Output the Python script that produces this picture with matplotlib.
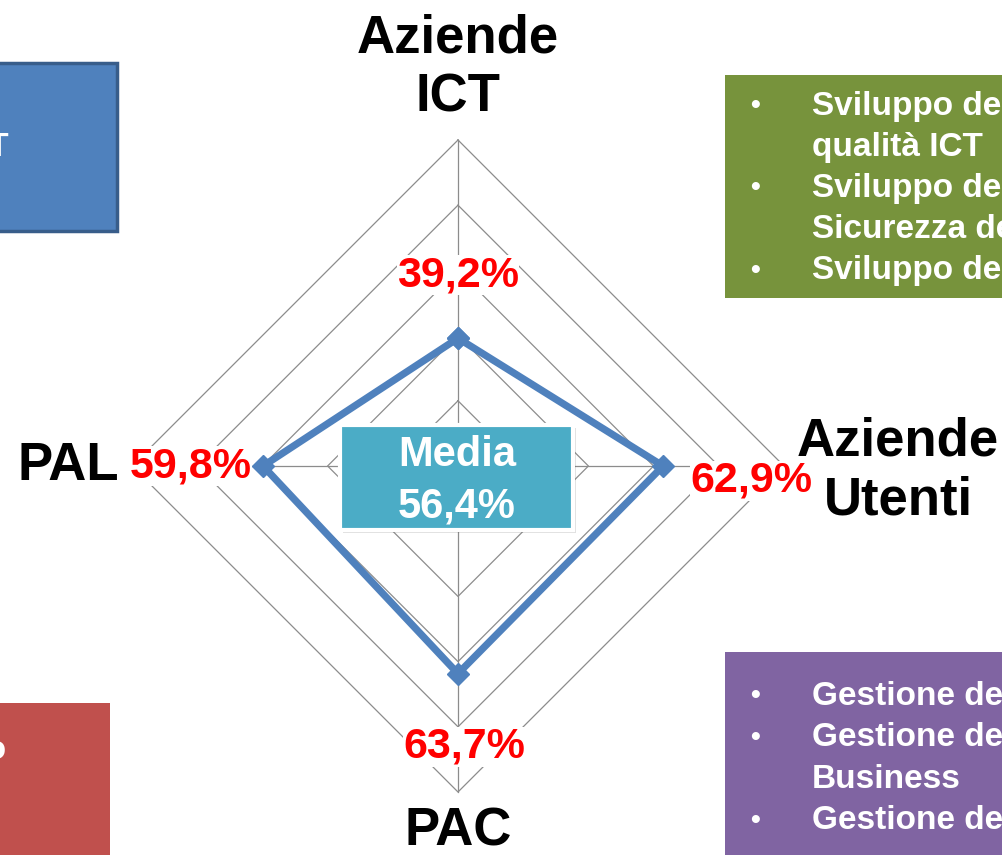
import numpy as np
import matplotlib
matplotlib.use("Agg")
import matplotlib.pyplot as plt
from matplotlib.patches import Rectangle

plt.rcParams["font.family"] = ["Liberation Sans", "DejaVu Sans"]
plt.rcParams["font.weight"] = "bold"

# data
categories = ["Aziende\nICT", "Aziende\nUtenti", "PAC", "PAL"]
values = [39.2, 62.9, 63.7, 59.8]          # percent
ring_levels = [0.2, 0.4, 0.6, 0.8, 1.0]
green_lines = ["Sviluppo dei", "qualità ICT", "Sviluppo del", "Sicurezza dei", "Sviluppo dei"]
green_bullets = [True, False, True, False, True]
purple_lines = ["Gestione dei", "Gestione dei", "Business", "Gestione dei"]
purple_bullets = [True, True, False, True]

BLUE = "#4F81BD"
GRID = "#8C8C8C"


def pct(v):
    return f"{v:.1f}%".replace(".", ",")


W, H = 1002, 855
fig = plt.figure(figsize=(W / 100, H / 100), dpi=100)

# radar: centre (458, 466) px, radius 326 px
cx, cy, R = 458, 466, 326
ax = fig.add_axes([(cx - R) / W, (H - cy - R) / H, 2 * R / W, 2 * R / H],
                  projection="polar", zorder=2)
ax.set_theta_zero_location("N")
ax.set_theta_direction(-1)
ax.set_ylim(0, 1)
ax.grid(False)
ax.set_xticks([])
ax.set_yticks([])
ax.spines["polar"].set_visible(False)
ax.patch.set_alpha(0)

angles = np.arange(len(categories)) * 2 * np.pi / len(categories)
closed = np.append(angles, angles[0])

for lvl in ring_levels:
    ax.plot(closed, [lvl] * len(closed), color=GRID, lw=0.9, clip_on=False, zorder=1)
for a in angles:
    ax.plot([a, a], [0, 1], color=GRID, lw=0.9, clip_on=False, zorder=1)

r = np.array(values) / 100
ax.plot(closed, np.append(r, r[0]), color=BLUE, lw=5.2, marker="D", ms=11,
        mfc=BLUE, mec=BLUE, clip_on=False, zorder=3)

# value labels (offset in pixels from each point)
val_offsets = [(0, 63), (88, -15), (6, -73), (-72, 0)]
for a, v, off in zip(angles, r, val_offsets):
    ax.annotate(pct(v * 100), xy=(a, v), xytext=off, textcoords="offset pixels",
                ha="center", va="center", fontsize=31, color="#FF0000",
                fontweight="bold", zorder=5,
                bbox=dict(fc="white", ec="none", pad=0))

# category labels
cat_offsets = [(0, 72), (114, -5), (0, -40), (-64, 0)]
for a, lab, off in zip(angles, categories, cat_offsets):
    ax.annotate(lab, xy=(a, 1.0), xytext=off, textcoords="offset pixels",
                ha="center", va="center", multialignment="center",
                fontsize=38, color="black", fontweight="bold",
                linespacing=1.24, zorder=5, annotation_clip=False)

# overlay in pixel coordinates for the boxes
ov = fig.add_axes([0, 0, 1, 1], zorder=4)
ov.set_xlim(0, W)
ov.set_ylim(H, 0)
ov.axis("off")
ov.patch.set_alpha(0)

# media box
mean = np.mean(values)
ov.add_patch(Rectangle((343, 428), 233, 105, fc="#000000", ec="none", alpha=0.12, zorder=1))
ov.add_patch(Rectangle((340, 425), 233, 105, fc="#4BACC6", ec="white", lw=3, zorder=2))
ov.text(457, 455, "Media", ha="center", va="center", fontsize=30, color="white",
        fontweight="bold", zorder=3)
ov.text(457, 506, pct(mean), ha="center", va="center", fontsize=30, color="white",
        fontweight="bold", zorder=3)

# left boxes
ov.add_patch(Rectangle((-10, 63), 127, 168, fc="#4F81BD", ec="#385D8A", lw=2.5))
ov.text(9, 148, "ICT", ha="right", va="center", fontsize=24, color="white", fontweight="bold")
ov.add_patch(Rectangle((-10, 703), 120, 170, fc="#C0504D", ec="none"))
ov.text(6, 750, "Sviluppo", ha="right", va="center", fontsize=24, color="white",
        fontweight="bold")

# right boxes
ov.add_patch(Rectangle((725, 75), 300, 223, fc="#77933C", ec="none"))
for i, (line, b) in enumerate(zip(green_lines, green_bullets)):
    y = 106 + i * 41.2
    if b:
        ov.text(750, y, "•", ha="left", va="center", fontsize=20, color="white")
    ov.text(812, y, line, ha="left", va="center", fontsize=24, color="white", fontweight="bold")

ov.add_patch(Rectangle((725, 652), 300, 220, fc="#8064A2", ec="none"))
for i, (line, b) in enumerate(zip(purple_lines, purple_bullets)):
    y = 696 + i * 41.5
    if b:
        ov.text(750, y, "•", ha="left", va="center", fontsize=20, color="white")
    ov.text(812, y, line, ha="left", va="center", fontsize=24, color="white", fontweight="bold")

fig.savefig("out.png", dpi=100)
